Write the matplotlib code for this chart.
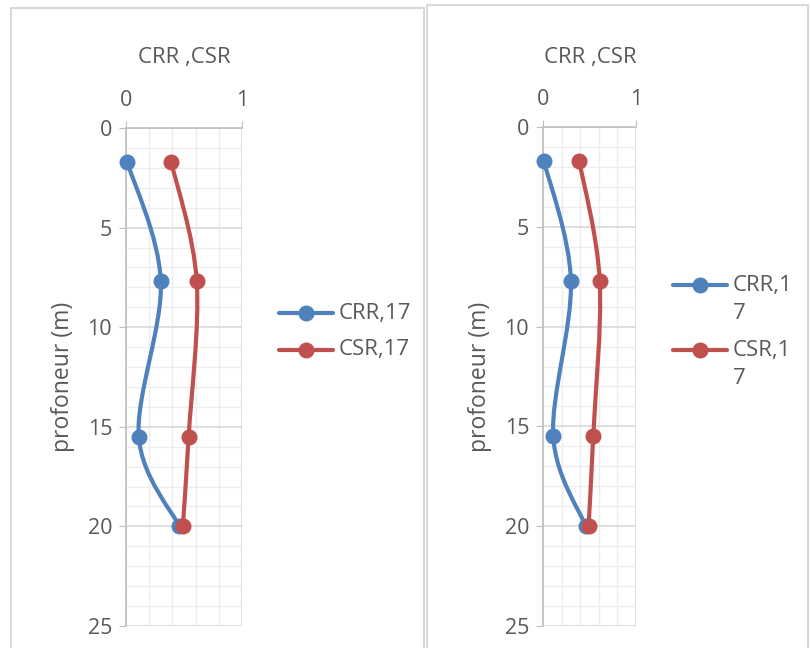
import numpy as np
import matplotlib
matplotlib.use('Agg')
import matplotlib.pyplot as plt
from matplotlib.path import Path
from matplotlib.patches import PathPatch, Rectangle
from matplotlib.lines import Line2D

# Data (same values on both panels)
depth = [1.7, 7.7, 15.5, 20.0]
crr = [0.01, 0.30, 0.11, 0.46]
csr = [0.39, 0.61, 0.54, 0.49]

x_ticks = [0, 1]
y_ticks = [0, 5, 10, 15, 20, 25]

BLUE = '#4f81bd'
RED = '#c0504d'
TXT = '#595959'

plt.rcParams['font.family'] = ['Open Sans', 'DejaVu Sans']

W, H = 810, 648
fig = plt.figure(figsize=(W / 100, H / 100), dpi=100)


def px_rect(x0, y0, x1, y1):
    # pixel box (top-left origin) -> figure fraction [left, bottom, w, h]
    return [x0 / W, 1 - y1 / H, (x1 - x0) / W, (y1 - y0) / H]


def smooth_path(xs, ys, sx, sy):
    """Excel-like smoothed line: cubic bezier with Catmull-Rom control points."""
    p = np.column_stack([np.asarray(xs) * sx, np.asarray(ys) * sy])
    n = len(p)
    verts = [p[0]]
    codes = [Path.MOVETO]
    for i in range(n - 1):
        prev = p[i - 1] if i > 0 else p[i]
        nxt = p[i + 2] if i + 2 < n else p[i + 1]
        c1 = p[i] + (p[i + 1] - prev) / 6.0
        c2 = p[i + 1] - (nxt - p[i]) / 6.0
        verts += [c1, c2, p[i + 1]]
        codes += [Path.CURVE4] * 3
    verts = np.array(verts) / [sx, sy]
    return Path(verts, codes)


def draw_panel(box, axbox, title_xy, ylabel_xy, legend_x, legend_rows):
    fig.add_artist(Rectangle((box[0] / W, 1 - box[3] / H), (box[2] - box[0]) / W,
                             (box[3] - box[1]) / H, transform=fig.transFigure,
                             fill=False, edgecolor='#d9d9d9', lw=1.5))
    ax = fig.add_axes(px_rect(*axbox))
    ax.set_xlim(0, 1)
    ax.set_ylim(25, 0)
    ax.xaxis.tick_top()
    ax.set_xticks(x_ticks)
    ax.set_yticks(y_ticks)
    ax.set_xticks(np.arange(0, 1.01, 0.2), minor=True)
    ax.set_yticks(np.arange(0, 26, 1), minor=True)
    ax.grid(True, which='minor', color='#ededed', lw=1.0)
    ax.grid(True, which='major', color='#d9d9d9', lw=1.2)
    ax.set_axisbelow(True)
    for s in ['right', 'bottom']:
        ax.spines[s].set_visible(False)
    for s in ['left', 'top']:
        ax.spines[s].set_color('#bfbfbf')
        ax.spines[s].set_linewidth(1.2)
    ax.tick_params(which='major', length=5, color='#bfbfbf', labelcolor=TXT, labelsize=15.5)
    ax.tick_params(axis='x', pad=7)
    ax.tick_params(axis='y', pad=5)
    ax.tick_params(which='minor', length=0)

    sx = axbox[2] - axbox[0]
    sy = (axbox[3] - axbox[1]) / 25.0
    for vals, col in [(crr, BLUE), (csr, RED)]:
        ax.add_patch(PathPatch(smooth_path(vals, depth, sx, sy), fill=False,
                               edgecolor=col, lw=3.0, capstyle='round', zorder=3))
        ax.plot(vals, depth, 'o', color=col, ms=10.5, zorder=4, clip_on=False)

    fig.text(title_xy[0] / W, 1 - title_xy[1] / H, 'CRR ,CSR', ha='center', va='center',
             fontsize=16, color=TXT)
    fig.text(ylabel_xy[0] / W, 1 - ylabel_xy[1] / H, 'profoneur (m)', ha='center', va='center',
             rotation=90, fontsize=16.5, color=TXT)

    for (label, y), col in zip(legend_rows, [BLUE, RED]):
        fy = 1 - y / H
        fig.add_artist(Line2D([legend_x / W, (legend_x + 54) / W], [fy, fy],
                              transform=fig.transFigure, color=col, lw=3.0,
                              solid_capstyle='round'))
        fig.add_artist(Line2D([(legend_x + 27) / W], [fy], transform=fig.transFigure,
                              marker='o', ms=10.5, color=col))
        if '\n' in label:
            fig.text((legend_x + 60) / W, fy + 10 / H, label, ha='left', va='top',
                     fontsize=16, color=TXT, linespacing=1.45)
        else:
            fig.text((legend_x + 60) / W, fy, label, ha='left', va='center',
                     fontsize=16, color=TXT)


draw_panel((11, 8, 424, 660), (126, 128, 242, 626), (184, 58), (63, 377), 279,
           [('CRR,17', 313), ('CSR,17', 350)])
draw_panel((427, 5, 808, 660), (543, 127, 636, 626), (590, 57), (480, 377), 673,
           [('CRR,1\n7', 285), ('CSR,1\n7', 350)])

fig.savefig('out.png', dpi=100, facecolor='white')
